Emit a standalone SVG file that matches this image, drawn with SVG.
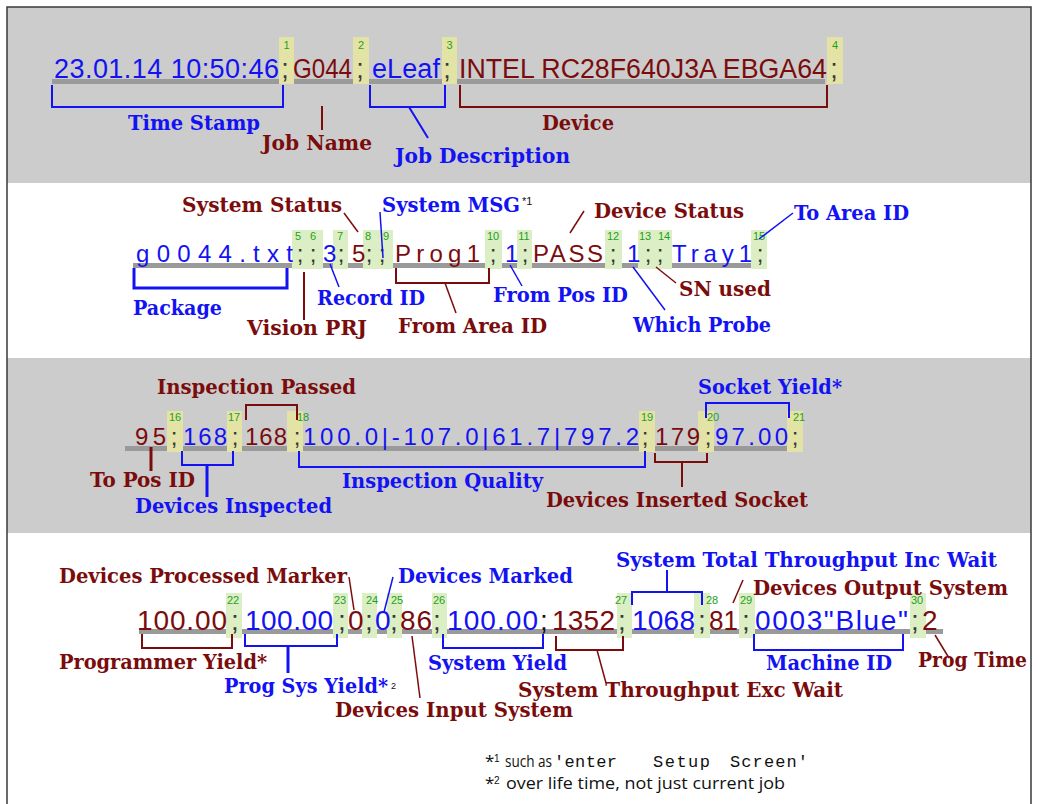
<svg xmlns="http://www.w3.org/2000/svg" width="1040" height="804" viewBox="0 0 1040 804">
<style>
.lb{font-family:"DejaVu Serif","Liberation Serif",serif;font-weight:bold;font-size:20px}
.b{fill:#1212f2}
.r{fill:#7a0c0c}
.d{font-family:"Liberation Sans",Arial,sans-serif}
.s24{font-size:24px}
.s27{font-size:27px}
.s28{font-size:28px}
.sc{fill:#3a3a3a;text-anchor:middle}
.n{font-family:"Liberation Sans",Arial,sans-serif;font-size:11px;fill:#1ea01e;text-anchor:middle}
.yb{fill:#e3e3a6}
.gb{fill:#dcefc4}
.bar{fill:#9a9a9a}
.cb{fill:none;stroke:#1212f2;stroke-width:2}
.cr{fill:none;stroke:#7a0c0c;stroke-width:2}
.thin{stroke-width:1.5}
.thick{stroke-width:3}
.fn{font-family:"Open Sans","Liberation Sans",sans-serif;font-size:17px;fill:#111}
.mono{font-family:"Liberation Mono","DejaVu Sans Mono",monospace;font-size:17px;fill:#111}
.sup{font-family:"Liberation Sans",sans-serif;fill:#111}
</style>

<!-- bands -->
<g id="bands">
<rect x="7" y="7" width="1024" height="176" fill="#cccccc"/>
<rect x="7" y="183" width="1024" height="175" fill="#ffffff"/>
<rect x="7" y="358" width="1024" height="175" fill="#cccccc"/>
<rect x="7" y="533" width="1024" height="275" fill="#ffffff"/>
<path d="M7,810 V7 H1031 V810" fill="none" stroke="#3a3a3a" stroke-width="1.5"/>
</g>

<!-- ROW 1 -->
<g id="record-line-1">
<rect class="bar" x="52" y="79" width="773" height="5"/>
<rect class="yb" x="279" y="37" width="15" height="47"/>
<rect class="yb" x="353" y="37" width="16" height="47"/>
<rect class="yb" x="442" y="37" width="15" height="47"/>
<rect class="yb" x="827" y="37" width="16" height="47"/>
<text class="n" x="286.5" y="49">1</text>
<text class="n" x="361" y="49">2</text>
<text class="n" x="449.5" y="49">3</text>
<text class="n" x="835" y="49">4</text>
<g class="d s27">
<text class="b" x="54" y="78" textLength="225">23.01.14 10:50:46</text>
<text class="sc" x="285" y="78">;</text>
<text class="r" x="293" y="78" textLength="59" lengthAdjust="spacingAndGlyphs">G044</text>
<text class="sc" x="360" y="78">;</text>
<text class="b" x="372" y="78" textLength="68">eLeaf</text>
<text class="sc" x="447" y="78">;</text>
<text class="r" x="459" y="78" textLength="368" lengthAdjust="spacingAndGlyphs">INTEL RC28F640J3A EBGA64</text>
<text class="sc" x="834" y="78">;</text>
</g>
</g>

<!-- ROW 2 -->
<g id="record-line-2">
<rect class="bar" x="133" y="263" width="634" height="5"/>
<rect class="gb" x="292" y="230" width="15" height="39"/>
<rect class="gb" x="307" y="230" width="16" height="39"/>
<rect class="gb" x="333" y="230" width="15" height="39"/>
<rect class="gb" x="363" y="230" width="15" height="39"/>
<rect class="gb" x="378" y="230" width="15" height="39"/>
<rect class="gb" x="485" y="230" width="17" height="39"/>
<rect class="gb" x="517" y="230" width="15" height="39"/>
<rect class="gb" x="605" y="230" width="17" height="39"/>
<rect class="gb" x="638" y="230" width="17" height="39"/>
<rect class="gb" x="655" y="230" width="17" height="39"/>
<rect class="gb" x="751" y="230" width="16" height="39"/>
<text class="n" x="298" y="240">5</text>
<text class="n" x="313" y="240">6</text>
<text class="n" x="340" y="240">7</text>
<text class="n" x="368" y="240">8</text>
<text class="n" x="386" y="240">9</text>
<text class="n" x="493" y="240">10</text>
<text class="n" x="524" y="240">11</text>
<text class="n" x="613" y="240">12</text>
<text class="n" x="645" y="240">13</text>
<text class="n" x="664" y="240">14</text>
<text class="n" x="759" y="240">15</text>
<g class="d s24">
<text class="b" x="136" y="262" textLength="157">g0044.txt</text>
<text class="sc" x="300" y="262">;</text>
<text class="sc" x="313" y="262">;</text>
<text class="b" x="323" y="262">3</text>
<text class="sc" x="341" y="262">;</text>
<text class="r" x="352" y="262">5</text>
<text class="sc" x="369" y="262">;</text>
<text class="sc" x="382" y="262">;</text>
<text class="r" x="395" y="262" textLength="85">Prog1</text>
<text class="sc" x="493" y="262">;</text>
<text class="b" x="505" y="262">1</text>
<text class="sc" x="525" y="262">;</text>
<text class="r" x="533" y="262" textLength="70">PASS</text>
<text class="sc" x="613" y="262">;</text>
<text class="b" x="627" y="262">1</text>
<text class="sc" x="648" y="262">;</text>
<text class="sc" x="660" y="262">;</text>
<text class="b" x="672" y="262" textLength="80">Tray1</text>
<text class="sc" x="760" y="262">;</text>
</g>
</g>

<!-- ROW 3 -->
<g id="record-line-3">
<rect class="bar" x="125" y="446" width="662" height="5"/>
<rect class="yb" x="167" y="411" width="16" height="41"/>
<rect class="yb" x="227" y="411" width="15" height="41"/>
<rect class="yb" x="287" y="411" width="16" height="41"/>
<rect class="yb" x="639" y="411" width="16" height="41"/>
<rect class="yb" x="698" y="411" width="16" height="41"/>
<rect class="yb" x="787" y="411" width="16" height="41"/>
<text class="n" x="175" y="421">16</text>
<text class="n" x="234" y="421">17</text>
<text class="n" x="303" y="421">18</text>
<text class="n" x="647" y="421">19</text>
<text class="n" x="713" y="421">20</text>
<text class="n" x="799" y="421">21</text>
<g class="d s24">
<text class="r" x="135" y="445" textLength="31">95</text>
<text class="sc" x="174" y="445">;</text>
<text class="b" x="183" y="445" textLength="44">168</text>
<text class="sc" x="235" y="445">;</text>
<text class="r" x="245" y="445" textLength="42">168</text>
<text class="sc" x="297" y="445">;</text>
<text class="b" x="303" y="445" textLength="336">100.0|-107.0|61.7|797.2</text>
<text class="sc" x="645" y="445">;</text>
<text class="r" x="655" y="445" textLength="45">179</text>
<text class="sc" x="708" y="445">;</text>
<text class="b" x="715" y="445" textLength="73">97.00</text>
<text class="sc" x="795" y="445">;</text>
</g>
</g>

<!-- ROW 4 -->
<g id="record-line-4">
<rect class="bar" x="139" y="629" width="804" height="5"/>
<rect class="gb" x="226" y="593" width="16" height="45"/>
<rect class="gb" x="333" y="593" width="15" height="45"/>
<rect class="gb" x="362" y="593" width="15" height="45"/>
<rect class="gb" x="387" y="593" width="15" height="45"/>
<rect class="gb" x="432" y="593" width="15" height="45"/>
<rect class="gb" x="617" y="593" width="15" height="45"/>
<rect class="gb" x="694" y="593" width="16" height="45"/>
<rect class="gb" x="739" y="593" width="16" height="45"/>
<rect class="gb" x="910" y="593" width="16" height="45"/>
<text class="n" x="233" y="604">22</text>
<text class="n" x="340" y="604">23</text>
<text class="n" x="372" y="604">24</text>
<text class="n" x="397" y="604">25</text>
<text class="n" x="439" y="604">26</text>
<text class="n" x="621" y="604">27</text>
<text class="n" x="712" y="604">28</text>
<text class="n" x="746" y="604">29</text>
<text class="n" x="917" y="604">30</text>
<g class="d s28">
<text class="r" x="137" y="630" textLength="90">100.00</text>
<text class="sc" x="235" y="630">;</text>
<text class="b" x="245" y="630" textLength="88">100.00</text>
<text class="sc" x="342" y="630">;</text>
<text class="r" x="348" y="630">0</text>
<text class="sc" x="369" y="630">;</text>
<text class="b" x="375" y="630">0</text>
<text class="sc" x="394" y="630">;</text>
<text class="r" x="400" y="630" textLength="32">86</text>
<text class="sc" x="437" y="630">;</text>
<text class="b" x="447" y="630" textLength="91">100.00</text>
<text class="sc" x="544" y="630" style="fill:#111">;</text>
<text class="r" x="552" y="630" textLength="63">1352</text>
<text class="sc" x="622" y="630">;</text>
<text class="b" x="632" y="630" textLength="63">1068</text>
<text class="sc" x="702" y="630">;</text>
<text class="r" x="709" y="630" textLength="29" lengthAdjust="spacingAndGlyphs">81</text>
<text class="sc" x="746" y="630">;</text>
<text class="b" x="755" y="630" textLength="153">0003"Blue"</text>
<text class="sc" x="915" y="630">;</text>
<text class="r" x="922" y="630">2</text>
</g>
</g>

<!-- connectors -->
<g id="connectors">
<path class="cb" d="M52,85 V107 H283 V85"/>
<path class="cr" d="M322,106 V130"/>
<path class="cb" d="M370,85 V107 H445 V85 M409,107 L428,138"/>
<path class="cr" d="M460,85 V107 H827 V85"/>

<path class="cr thin" d="M344,213 L358,232"/>
<path class="cb thin" d="M380,212 L383,258"/>
<path class="cr thin" d="M584,211 L570,233"/>
<path class="cb thin" d="M793,213 L759,239"/>
<path class="cb thick" d="M134,268 V288 H287 V268"/>
<path class="cr" d="M304,272 V320"/>
<path class="cb thin" d="M330,264 L339,287"/>
<path class="cr" d="M396,268 V283 H489 V268"/>
<path class="cr thin" d="M445,283 L456,313"/>
<path class="cb thin" d="M510,265 L522,286"/>
<path class="cb thin" d="M633,267 L665,310"/>
<path class="cr thin" d="M656,267 L676,283"/>

<path class="cr" d="M246,420 V405 H297 V420"/>
<path class="cr thick" d="M151,447 V471"/>
<path class="cb" d="M182,451 V465 H233 V451"/>
<path class="cb thick" d="M207,465 V497"/>
<path class="cb" d="M299,451 V467 H645 V451"/>
<path class="cr" d="M655,453 V462 H707 V453 M682,462 V487"/>
<path class="cb" d="M706,418 V403 H789 V418"/>

<path class="cr thin" d="M349,577 L354,610"/>
<path class="cb thin" d="M393,577 L384,612"/>
<path class="cr" d="M142,634 V648 H232 V634"/>
<path class="cb" d="M245,634 V646 H337 V634"/>
<path class="cb thick" d="M288,646 V673"/>
<path class="cr thin" d="M412,636 L420,698"/>
<path class="cb" d="M443,634 V648 H543 V634"/>
<path class="cr" d="M556,636 V650 H623 V636"/>
<path class="cr thin" d="M597,650 L606,683"/>
<path class="cb" d="M632,605 V592 H702 V605 M667,570 V592"/>
<path class="cr thin" d="M743,580 L733,603"/>
<path class="cb" d="M754,634 V650 H903 V634"/>
<path class="cr thin" d="M935,635 L949,658"/>
</g>

<!-- field labels -->
<g id="time-stamp"><text class="lb b" x="128" y="130" textLength="132" lengthAdjust="spacingAndGlyphs">Time Stamp</text></g>
<g id="job-name"><text class="lb r" x="262" y="150" textLength="110" lengthAdjust="spacingAndGlyphs">Job Name</text></g>
<g id="job-description"><text class="lb b" x="395" y="163" textLength="175" lengthAdjust="spacingAndGlyphs">Job Description</text></g>
<g id="device"><text class="lb r" x="542" y="130" textLength="72" lengthAdjust="spacingAndGlyphs">Device</text></g>

<g id="system-status"><text class="lb r" x="182" y="212" textLength="160" lengthAdjust="spacingAndGlyphs">System Status</text></g>
<g id="system-msg"><text class="lb b" x="382" y="212" textLength="138" lengthAdjust="spacingAndGlyphs">System MSG</text><text class="sup" x="522" y="205" style="font-size:11px">*1</text></g>
<g id="device-status"><text class="lb r" x="594" y="218" textLength="150" lengthAdjust="spacingAndGlyphs">Device Status</text></g>
<g id="to-area-id"><text class="lb b" x="794" y="220" textLength="115" lengthAdjust="spacingAndGlyphs">To Area ID</text></g>
<g id="package"><text class="lb b" x="133" y="315" textLength="89" lengthAdjust="spacingAndGlyphs">Package</text></g>
<g id="vision-prj"><text class="lb r" x="247" y="335" textLength="120" lengthAdjust="spacingAndGlyphs">Vision PRJ</text></g>
<g id="record-id"><text class="lb b" x="317" y="305" textLength="108" lengthAdjust="spacingAndGlyphs">Record ID</text></g>
<g id="from-area-id"><text class="lb r" x="398" y="333" textLength="149" lengthAdjust="spacingAndGlyphs">From Area ID</text></g>
<g id="from-pos-id"><text class="lb b" x="493" y="302" textLength="135" lengthAdjust="spacingAndGlyphs">From Pos ID</text></g>
<g id="which-probe"><text class="lb b" x="633" y="332" textLength="138" lengthAdjust="spacingAndGlyphs">Which Probe</text></g>
<g id="sn-used"><text class="lb r" x="679" y="296" textLength="92" lengthAdjust="spacingAndGlyphs">SN used</text></g>

<g id="inspection-passed"><text class="lb r" x="157" y="394" textLength="199" lengthAdjust="spacingAndGlyphs">Inspection Passed</text></g>
<g id="to-pos-id"><text class="lb r" x="90" y="487" textLength="105" lengthAdjust="spacingAndGlyphs">To Pos ID</text></g>
<g id="devices-inspected"><text class="lb b" x="135" y="513" textLength="197" lengthAdjust="spacingAndGlyphs">Devices Inspected</text></g>
<g id="inspection-quality"><text class="lb b" x="342" y="488" textLength="201" lengthAdjust="spacingAndGlyphs">Inspection Quality</text></g>
<g id="devices-inserted-socket"><text class="lb r" x="546" y="507" textLength="262" lengthAdjust="spacingAndGlyphs">Devices Inserted Socket</text></g>
<g id="socket-yield"><text class="lb b" x="698" y="394" textLength="144" lengthAdjust="spacingAndGlyphs">Socket Yield*</text></g>

<g id="devices-processed-marker"><text class="lb r" x="59" y="583" textLength="288" lengthAdjust="spacingAndGlyphs">Devices Processed Marker</text></g>
<g id="devices-marked"><text class="lb b" x="398" y="583" textLength="175" lengthAdjust="spacingAndGlyphs">Devices Marked</text></g>
<g id="programmer-yield"><text class="lb r" x="59" y="669" textLength="208" lengthAdjust="spacingAndGlyphs">Programmer Yield*</text></g>
<g id="prog-sys-yield"><text class="lb b" x="224" y="693" textLength="164" lengthAdjust="spacingAndGlyphs">Prog Sys Yield*</text><text class="sup" x="391" y="689" style="font-size:9px">2</text></g>
<g id="devices-input-system"><text class="lb r" x="335" y="717" textLength="238" lengthAdjust="spacingAndGlyphs">Devices Input System</text></g>
<g id="system-yield"><text class="lb b" x="428" y="670" textLength="139" lengthAdjust="spacingAndGlyphs">System Yield</text></g>
<g id="system-throughput-exc-wait"><text class="lb r" x="518" y="697" textLength="325" lengthAdjust="spacingAndGlyphs">System Throughput Exc Wait</text></g>
<g id="system-total-throughput-inc-wait"><text class="lb b" x="616" y="567" textLength="381" lengthAdjust="spacingAndGlyphs">System Total Throughput Inc Wait</text></g>
<g id="devices-output-system"><text class="lb r" x="753" y="595" textLength="255" lengthAdjust="spacingAndGlyphs">Devices Output System</text></g>
<g id="machine-id"><text class="lb b" x="766" y="670" textLength="126" lengthAdjust="spacingAndGlyphs">Machine ID</text></g>
<g id="prog-time"><text class="lb r" x="918" y="667" textLength="109" lengthAdjust="spacingAndGlyphs">Prog Time</text></g>

<!-- footnotes -->
<g id="footnotes">
<text class="fn" x="485" y="767">*</text><text class="sup" x="494" y="762" style="font-size:10px">1</text>
<text class="fn" x="505" y="767" textLength="47" lengthAdjust="spacingAndGlyphs">such as</text>
<text class="mono" x="554" y="767" textLength="63">'enter</text>
<text class="mono" x="653" y="767" textLength="57">Setup</text>
<text class="mono" x="730" y="767" textLength="78">Screen'</text>
<text class="fn" x="485" y="789">*</text><text class="sup" x="494" y="784" style="font-size:10px">2</text>
<text class="fn" x="506" y="789" textLength="279" lengthAdjust="spacingAndGlyphs">over life time, not just current job</text>
</g>
</svg>
